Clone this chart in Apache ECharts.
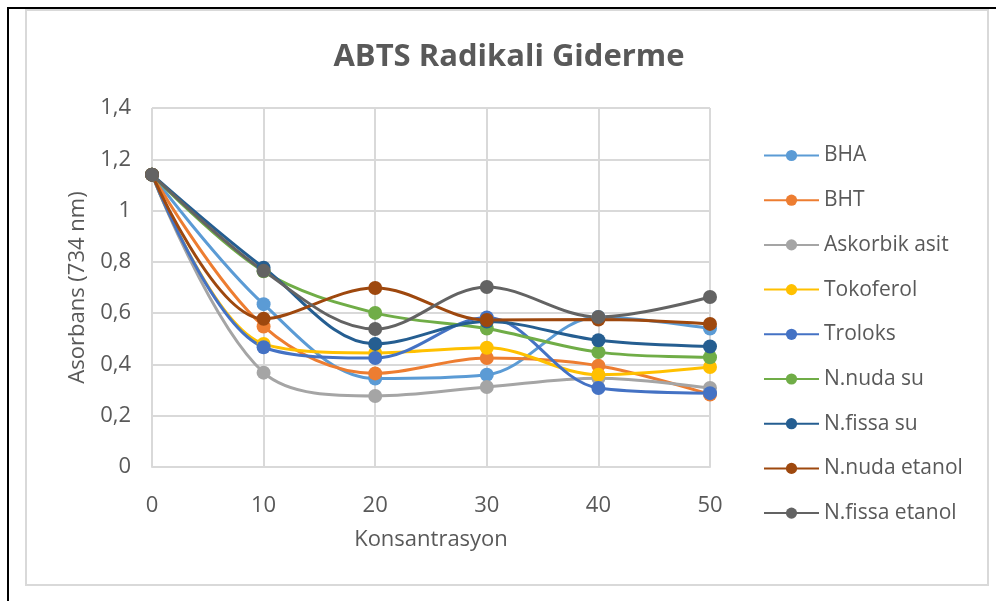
<!DOCTYPE html>
<html>
<head>
<meta charset="utf-8">
<script src="https://cdn.jsdelivr.net/npm/echarts@6/dist/echarts.min.js"></script>
<style>
  html, body { margin: 0; padding: 0; background: #fff; }
  .outer_line {
    position: absolute; left: 7px; top: 7px; width: 1000px; height: 600px;
    border-top: 2px solid #000; border-left: 2px solid #000;
  }
  .chart_box {
    position: absolute; left: 25px; top: 9px; width: 960px; height: 573px;
    border: 2px solid #d9d9d9;
  }
  #abts_chart { position: absolute; left: 0; top: 0; width: 996px; height: 601px; }
</style>
</head>
<body>
<div class="outer_line"></div>
<div class="chart_box"></div>
<div id="abts_chart"></div>
<script>
// konsantrasyon
var konsantrasyon = [0, 10, 20, 30, 40, 50];

var bha = [1.14, 0.635, 0.345, 0.36, 0.585, 0.54];
var bht = [1.14, 0.548, 0.365, 0.425, 0.395, 0.283];
var askorbik = [1.14, 0.368, 0.277, 0.312, 0.346, 0.308];
var tokoferol = [1.14, 0.48, 0.445, 0.465, 0.36, 0.39];
var troloks = [1.14, 0.467, 0.425, 0.583, 0.308, 0.288];
var nNudaSu = [1.14, 0.763, 0.601, 0.54, 0.448, 0.428];
var nFissaSu = [1.14, 0.777, 0.48, 0.567, 0.494, 0.47];
var nNudaEtanol = [1.14, 0.578, 0.698, 0.573, 0.575, 0.558];
var nFissaEtanol = [1.14, 0.765, 0.538, 0.702, 0.585, 0.663];

var seriesNames = ["BHA", "BHT", "Askorbik asit", "Tokoferol", "Troloks",
  "N.nuda su", "N.fissa su", "N.nuda etanol", "N.fissa etanol"];
var seriesValues = [bha, bht, askorbik, tokoferol, troloks,
  nNudaSu, nFissaSu, nNudaEtanol, nFissaEtanol];
var seriesColors = ["#5b9bd5", "#ed7d31", "#a5a5a5", "#ffc000", "#4472c4",
  "#70ad47", "#255e91", "#9e480e", "#636363"];

var yTicks = [0, 0.2, 0.4, 0.6, 0.8, 1, 1.2, 1.4];

var txt = "#595959";
var font = "Open Sans";

var series = seriesNames.map(function (name, i) {
  return {
    name: name,
    type: "line",
    smooth: 0.35,
    symbol: "circle",
    symbolSize: 14,
    showAllSymbol: true,
    lineStyle: { width: 3, color: seriesColors[i] },
    itemStyle: { color: seriesColors[i] },
    data: seriesValues[i].map(function (v, j) { return [konsantrasyon[j], v]; })
  };
});

var option = {
  animation: false,
  color: seriesColors,
  textStyle: { fontFamily: font },
  title: {
    text: "ABTS Radikali Giderme",
    left: 504, top: 37, textAlign: "center",
    textStyle: { color: txt, fontSize: 31, fontWeight: "bold", fontFamily: font }
  },
  legend: {
    orient: "vertical",
    left: 758, top: 140,
    itemWidth: 55, itemHeight: 14,
    itemGap: 23.7,
    itemStyle: { borderWidth: 0 },
    textStyle: { color: txt, fontSize: 21, fontFamily: font },
    data: seriesNames
  },
  grid: { left: 152, right: 286, top: 108, bottom: 134 },
  xAxis: {
    type: "value",
    min: 0, max: 50, interval: 10,
    name: "Konsantrasyon",
    nameLocation: "middle",
    nameGap: 62,
    nameTextStyle: { color: txt, fontSize: 22, fontFamily: font },
    axisLine: { show: true, lineStyle: { color: "#d9d9d9", width: 2 } },
    axisTick: { show: false },
    axisLabel: { color: txt, fontSize: 22, margin: 28, fontFamily: font },
    splitLine: { show: true, lineStyle: { color: "#d9d9d9", width: 2 } }
  },
  yAxis: {
    type: "value",
    min: 0, max: 1.4, interval: 0.2,
    name: "Asorbans (734 nm)",
    nameLocation: "middle",
    nameGap: 63,
    nameTextStyle: { color: txt, fontSize: 22, fontFamily: font },
    axisLine: { show: false },
    axisTick: { show: false },
    axisLabel: {
      color: txt, fontSize: 22, margin: 21, fontFamily: font,
      formatter: function (v) {
        var t = yTicks.find(function (k) { return Math.abs(k - v) < 1e-6; });
        return String(t === undefined ? v : t).replace(".", ",");
      }
    },
    splitLine: { show: true, lineStyle: { color: "#d9d9d9", width: 2 } }
  },
  series: series
};

var myChart = echarts.init(document.getElementById("abts_chart"));
myChart.setOption(option);
</script>
</body>
</html>
